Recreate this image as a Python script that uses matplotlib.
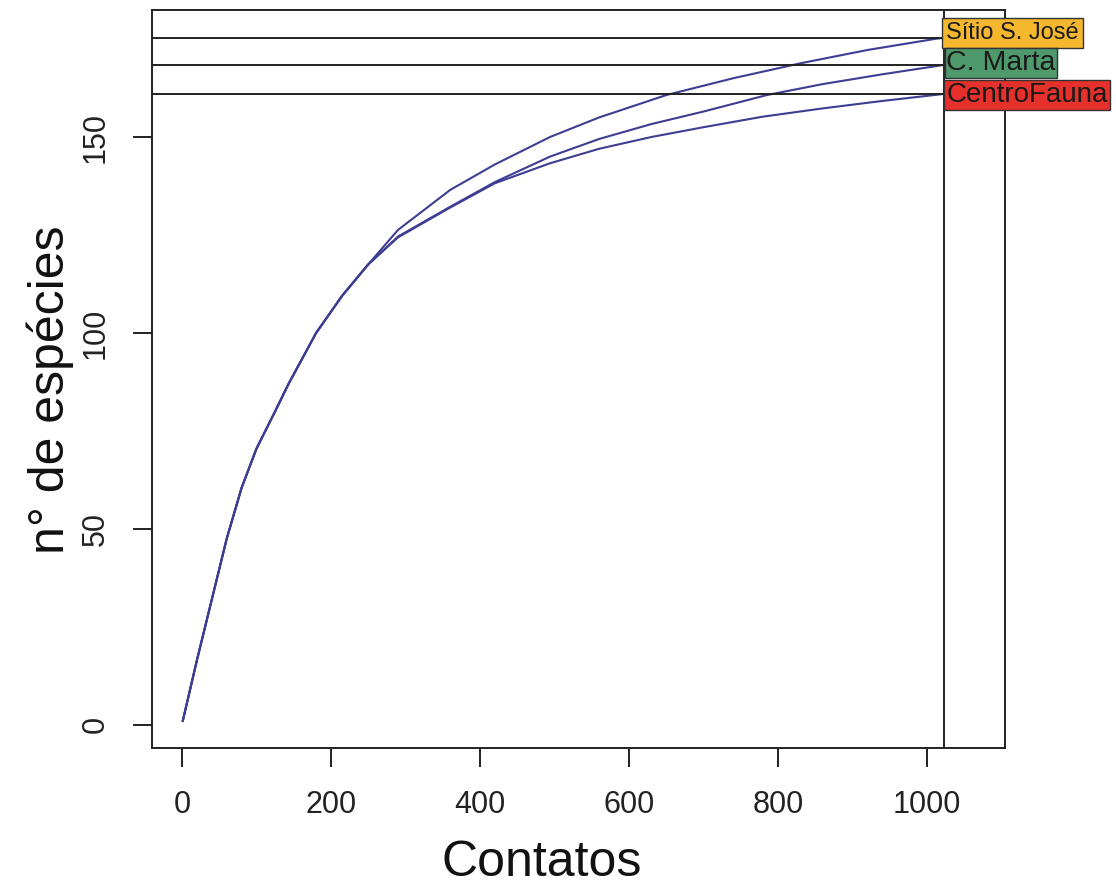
import matplotlib
matplotlib.use('Agg')
import matplotlib.pyplot as plt

plt.rcParams['font.family'] = ['Liberation Sans', 'DejaVu Sans']

# shared start of the three rarefaction curves
x_common = [1, 20, 40, 60, 80, 100, 125, 143, 180, 215, 250]
y_common = [1, 16.5, 32, 47.5, 60.5, 70.5, 80, 87, 100, 109.5, 117.5]

x_sjose = [290, 360, 420, 494, 560, 650, 740, 830, 920, 1013, 1023]
y_sjose = [126.3, 136.5, 143, 150, 155, 160.7, 165, 168.8, 172.2, 175.1, 175.3]

x_marta = [290, 360, 420, 494, 560, 630, 700, 785, 860, 940, 1023]
y_marta = [124.6, 132.2, 138.5, 145.0, 149.5, 153.3, 156.5, 160.7, 163.5, 166, 168.4]

x_centro = [290, 360, 420, 494, 560, 630, 700, 780, 860, 940, 1023]
y_centro = [124.4, 132.0, 138.2, 143.3, 147, 150, 152.5, 155.2, 157.3, 159.2, 161]

site_names = ['Sítio S. José', 'C. Marta', 'CentroFauna']
site_totals = [175.3, 168.4, 161]
site_colors = ['#f4b72e', '#4f9a6c', '#e5302b']
label_y = [176.5, 168.9, 160.7]
label_size = [17, 20.5, 20]
label_pad = [0.18, 0.06, 0.08]
n_contacts = 1023

line_color = '#3d3d92'

fig = plt.figure(figsize=(11.16, 8.88), dpi=100)
ax = fig.add_axes([0.1362, 0.1577, 0.7643, 0.8310])

for xs, ys in [(x_sjose, y_sjose), (x_marta, y_marta), (x_centro, y_centro)]:
    ax.plot(x_common + xs, y_common + ys, color=line_color, lw=1.5)

for total in site_totals:
    ax.axhline(total, color='#222222', lw=1.4)
ax.axvline(n_contacts, color='#222222', lw=1.4)

for name, col, yy, fs, pd in zip(site_names, site_colors, label_y, label_size, label_pad):
    ax.text(n_contacts + 3, yy, name, fontsize=fs, color='#1a1a1a', va='center', ha='left',
            clip_on=False, zorder=5,
            bbox=dict(boxstyle='square,pad=%s' % pd, facecolor=col, edgecolor='#333333', lw=1.0))

ax.set_xlim(-40.3, 1104.7)
ax.set_ylim(-5.9, 182.4)
ax.set_xticks([0, 200, 400, 600, 800, 1000])
ax.set_yticks([0, 50, 100, 150])
ax.tick_params(axis='both', labelsize=22, length=14, width=1.4, pad=16, colors='#222222')
for lab in ax.get_yticklabels():
    lab.set_rotation(90)
    lab.set_va('center')

for sp in ax.spines.values():
    sp.set_linewidth(1.4)
    sp.set_color('#222222')

ax.set_xlabel('Contatos', fontsize=36, color='#111111')
ax.set_ylabel('n° de espécies', fontsize=36, color='#111111')
ax.xaxis.set_label_coords(0.457, -0.125)
ax.yaxis.set_label_coords(-0.092, 0.485)

fig.savefig('out.png', dpi=100)
